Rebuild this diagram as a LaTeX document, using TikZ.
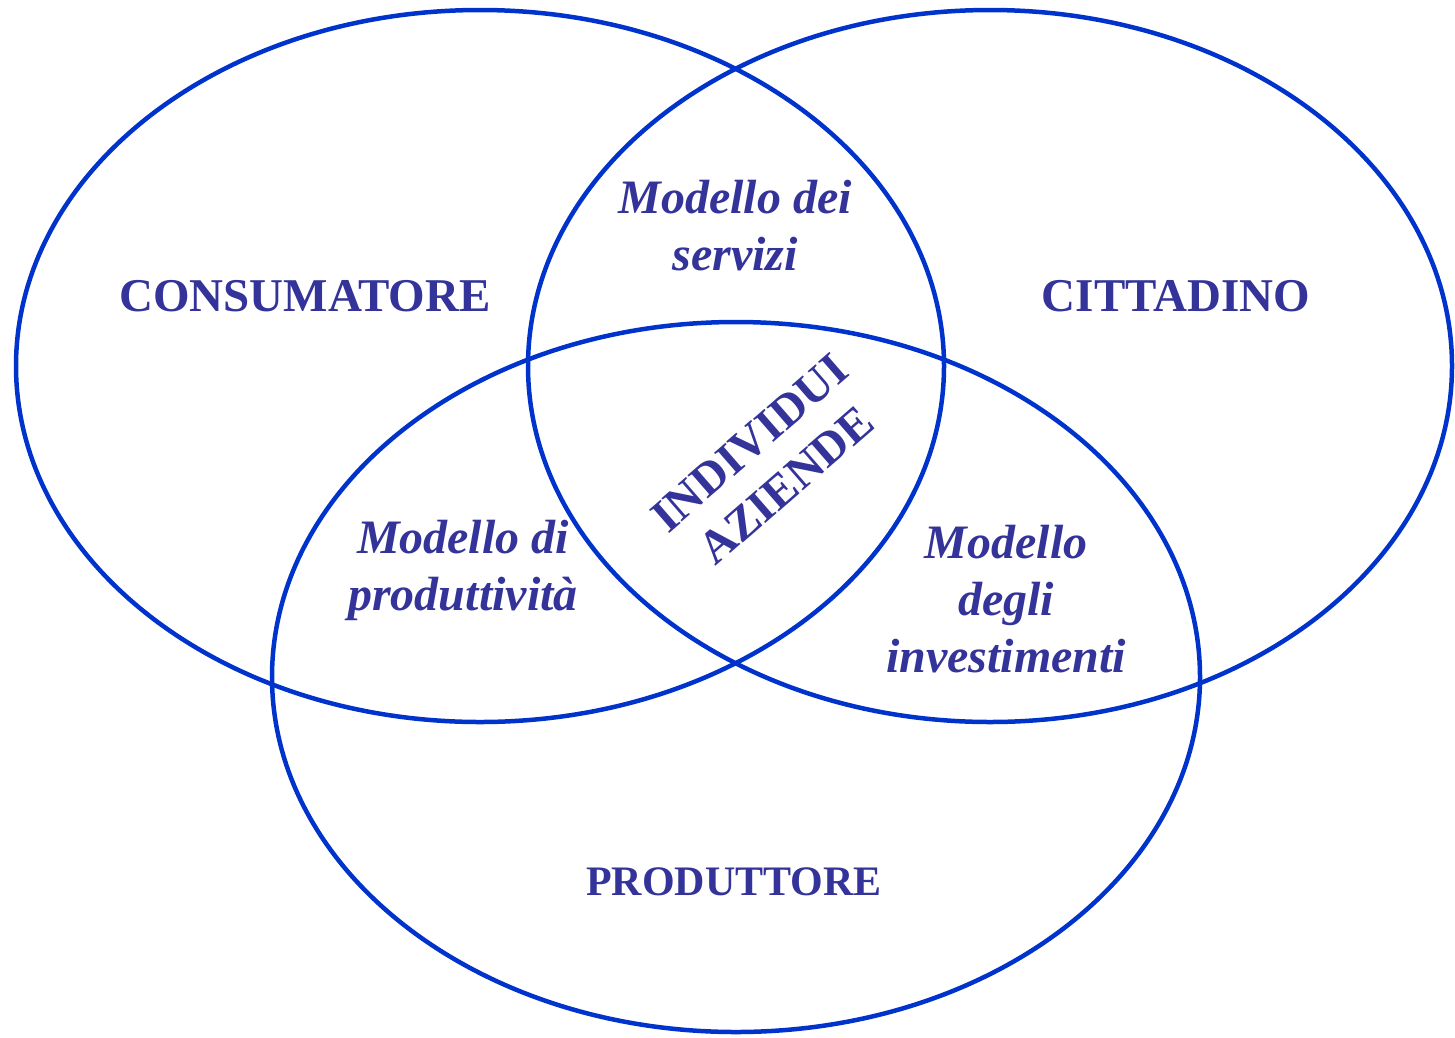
\documentclass[tikz,border=0pt]{standalone}
\usepackage{fontspec}
\setmainfont{Liberation Serif}
\definecolor{ringblue}{HTML}{0033CC}
\definecolor{textblue}{HTML}{333399}
\begin{document}
\begin{tikzpicture}[x=1pt,y=-1pt,
  ring/.style={draw=ringblue,line width=4.5pt},
  lbl/.style={text=textblue,font=\fontsize{47}{56}\selectfont\bfseries,align=center,inner sep=0pt},
  ilbl/.style={lbl,font=\fontsize{48}{57}\selectfont\bfseries\itshape}]
\useasboundingbox (0,0) rectangle (1455,1037);
\draw[ring] (480,366) ellipse [x radius=464, y radius=356];
\draw[ring] (990,366) ellipse [x radius=462, y radius=356];
\draw[ring] (736,677) ellipse [x radius=464, y radius=355];
\node[lbl] (cons) at (305,296) {CONSUMATORE};
\node[lbl] (citt) at (1176,296) {CITTADINO};
\node[lbl,font=\fontsize{42}{50}\selectfont\bfseries] (prod) at (734,882) {PRODUTTORE};
\node[ilbl] (serv) at (735,226) {Modello dei\\servizi};
\node[ilbl] (pdt) at (463,570) {Modello di\\produttività};
\node[ilbl] (inv) at (1006,599) {Modello\\degli\\investimenti};
\node[lbl,rotate=41] (ind) at (768,464) {INDIVIDUI\\AZIENDE};
\end{tikzpicture}
\end{document}
